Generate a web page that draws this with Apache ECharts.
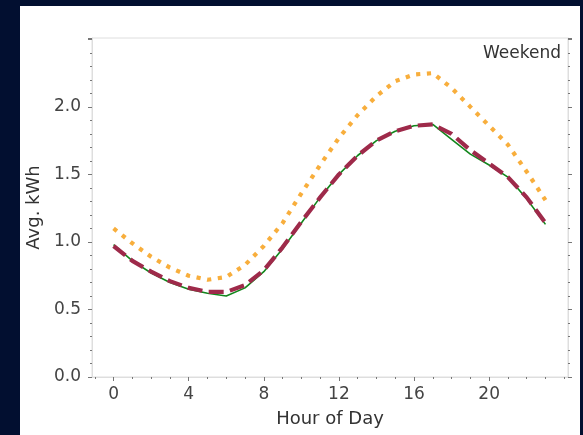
<!DOCTYPE html>
<html>
<head>
<meta charset="utf-8">
<script src="https://cdn.jsdelivr.net/npm/echarts@6/dist/echarts.min.js"></script>
<style>
  html, body { margin: 0; padding: 0; background: #020f30; }
  #main { width: 583px; height: 435px; }
</style>
</head>
<body>
<div id="main"></div>
<script>
// hour of day
var hours = [0,1,2,3,4,5,6,7,8,9,10,11,12,13,14,15,16,17,18,19,20,21,22,23];
// average kWh
var solidVals  = [0.98,0.86,0.77,0.70,0.65,0.62,0.60,0.66,0.78,0.95,1.14,1.33,1.50,1.64,1.75,1.82,1.86,1.87,1.76,1.65,1.57,1.48,1.32,1.13];
var dashedVals = [0.97,0.86,0.78,0.71,0.66,0.63,0.63,0.68,0.79,0.96,1.15,1.33,1.50,1.64,1.75,1.82,1.86,1.87,1.80,1.68,1.58,1.48,1.33,1.14];
var dottedVals = [1.10,0.99,0.89,0.81,0.75,0.72,0.74,0.83,0.97,1.14,1.36,1.57,1.77,1.94,2.08,2.19,2.24,2.25,2.14,2.00,1.86,1.72,1.52,1.31];
var xLabelTicks = [0,4,8,12,16,20];
var xMinorTicks = [-1,0,1,2,3,4,5,6,7,8,9,10,11,12,13,14,15,16,17,18,19,20,21,22,23,24];
var yLabelTicks = [0,0.5,1.0,1.5,2.0];

function pairs(vals) {
  var out = [];
  for (var i = 0; i < hours.length; i++) out.push([hours[i], vals[i]]);
  return out;
}

var myChart = echarts.init(document.getElementById('main'));
var font = 'DejaVu Sans';
var option = {
  backgroundColor: '#020f30',
  animation: false,
  graphic: [
    { type: 'rect', z: -10, shape: { x: 20, y: 6, width: 560, height: 429 }, style: { fill: '#ffffff' } },
    { type: 'text', right: 22, top: 45, style: { text: 'Weekend', fill: '#333', font: '17px "DejaVu Sans"' } }
  ],
  grid: { left: 92, top: 38, right: 15, bottom: 58, show: true, borderColor: '#dedede', borderWidth: 1 },
  xAxis: [
    {
      type: 'value', min: -1.15, max: 24.2,
      name: 'Hour of Day', nameLocation: 'middle', nameGap: 33,
      nameTextStyle: { fontFamily: font, fontSize: 18, color: '#333' },
      axisLine: { show: true, onZero: false, lineStyle: { color: '#dedede' } },
      axisTick: { show: true, customValues: xLabelTicks, length: 4, lineStyle: { color: '#777' } },
      axisLabel: { customValues: xLabelTicks, fontFamily: font, fontSize: 17, color: '#444', margin: 9 },
      splitLine: { show: false }
    },
    {
      type: 'value', min: -1.15, max: 24.2, position: 'bottom',
      axisLine: { show: false, onZero: false },
      axisTick: { show: true, customValues: xMinorTicks, length: 2, lineStyle: { color: '#777' } },
      axisLabel: { show: false },
      splitLine: { show: false }
    }
  ],
  yAxis: [
    {
      type: 'value', min: 0, max: 2.51, interval: 0.5,
      name: 'Avg. kWh', nameLocation: 'middle', nameGap: 42,
      nameTextStyle: { fontFamily: font, fontSize: 18, color: '#333' },
      axisLine: { show: true, onZero: false, lineStyle: { color: '#dedede' } },
      axisTick: { show: true, length: 4, lineStyle: { color: '#777' } },
      minorTick: { show: true, splitNumber: 5, length: 2, lineStyle: { color: '#777' } },
      axisLabel: { customValues: yLabelTicks, fontFamily: font, fontSize: 17, color: '#444', margin: 11,
        formatter: function (v) { return v.toFixed(1); } },
      splitLine: { show: false }
    },
    {
      type: 'value', min: 0, max: 2.51, interval: 0.5, position: 'right',
      axisLine: { show: true, onZero: false, lineStyle: { color: '#dedede' } },
      axisTick: { show: true, length: 4, lineStyle: { color: '#777' } },
      minorTick: { show: true, splitNumber: 5, length: 2, lineStyle: { color: '#777' } },
      axisLabel: { show: false },
      splitLine: { show: false }
    }
  ],
  series: [
    {
      name: 'solid', type: 'line', data: pairs(solidVals), showSymbol: false,
      lineStyle: { color: '#12861c', width: 1.6 }
    },
    {
      name: 'dashed', type: 'line', data: pairs(dashedVals), showSymbol: false,
      lineStyle: { color: '#9e2a4a', width: 4.2, type: [15, 6.4] }
    },
    {
      name: 'dotted', type: 'line', data: pairs(dottedVals), showSymbol: false,
      lineStyle: { color: '#f8ae3c', width: 4.2, type: [4.2, 6.6] }
    }
  ]
};
myChart.setOption(option);
</script>
</body>
</html>
